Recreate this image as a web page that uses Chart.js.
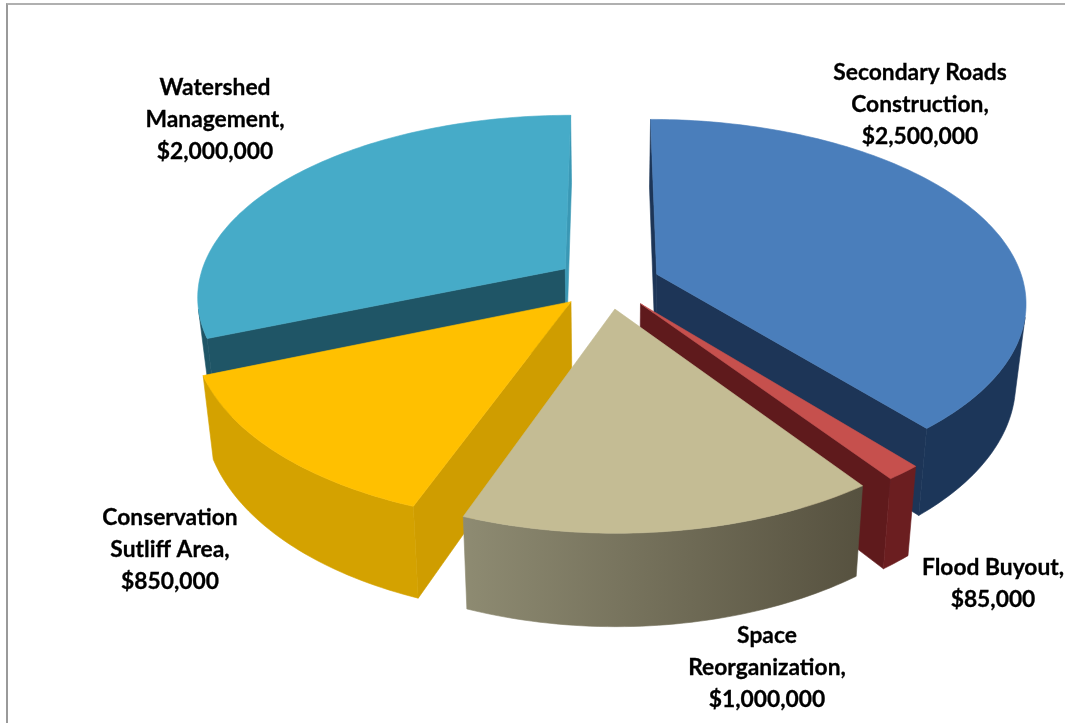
<!DOCTYPE html>
<html>
<head>
<meta charset="utf-8">
<script src="https://cdn.jsdelivr.net/npm/chart.js@4/dist/chart.umd.min.js"></script>
<style>
  html, body { margin: 0; padding: 0; background: #fff; overflow: hidden; }
  #frame { position: absolute; left: 6px; top: 3px; width: 1059px; height: 720px;
           border-left: 2px solid #9a9a9a; border-top: 2px solid #b0b0b0; box-sizing: border-box; }
  #wrap { position: absolute; left: 0; top: 0; width: 1065px; height: 723px; }
</style>
</head>
<body>
<div id="frame"></div>
<div id="wrap"><canvas id="grafico" width="1065" height="723"></canvas></div>
<script>
const categories = ['Secondary Roads Construction', 'Flood Buyout', 'Space Reorganization', 'Conservation Sutliff Area', 'Watershed Management'];
const values = [2500000, 85000, 1000000, 850000, 2000000];
const labelLines = [
  ['Secondary Roads', 'Construction,'],
  ['Flood Buyout,'],
  ['Space', 'Reorganization,'],
  ['Conservation', 'Sutliff Area,'],
  ['Watershed', 'Management,']
];
const topColors = ['#4a7ebb', '#c6504d', '#c4bc94', '#ffc000', '#46abc8'];
// side colours run from the left end to the right end of the visible rim
const sideColors = [['#1c3659', '#1c3659'], ['#6b1e20', '#6b1e20'], ['#8e8b72', '#56513f'], ['#d4a200', '#d4a200'], ['#1f5566', '#1f5566']];
const startWallColors = ['#1d3557', '#6b1e20', '#8e8b72', '#cf9d00', '#1f5566'];
const endWallColors = ['#1d3557', '#5f1a1c', '#8e8b72', '#cf9d00', '#3a98b5'];
const labelCenters = [[920, 73], [993, 568], [767, 636], [170, 518], [215, 88]];

// projection of the flat pie to the tilted 3D look
const cam = { cx: 608, cy: 283, rx: 367, ry: 181, kx: 0.145, ky: 0.153, depth: 78, shrink: 0.975 };

function project(u, v, baixo) {
  const sx = 1 / (1 - cam.kx * v);
  const sy = 1 / (1 - cam.ky * v);
  let x = cam.cx + cam.rx * u * sx;
  let y = cam.cy + cam.ry * v * sy;
  if (baixo) {
    x = cam.cx + (x - cam.cx) * cam.shrink;
    y += cam.depth * sx;
  }
  return [x, y];
}

function area(p) {
  let a = 0;
  p.forEach((q, i) => {
    const n = p[(i + 1) % p.length];
    a += q[0] * n[1] - n[0] * q[1];
  });
  return a / 2;
}

function poly(ctx, p, cor) {
  ctx.beginPath();
  p.forEach((q, i) => i ? ctx.lineTo(q[0], q[1]) : ctx.moveTo(q[0], q[1]));
  ctx.closePath();
  ctx.fillStyle = cor;
  ctx.strokeStyle = cor;
  ctx.lineWidth = 0.6;
  ctx.fill();
  ctx.stroke();
}

function quad(a, b) {
  return [project(a[0], a[1]), project(b[0], b[1]), project(b[0], b[1], true), project(a[0], a[1], true)];
}

function wall(ctx, a, b, cor) {
  const q = quad(a, b);
  if (area(q) < 0) poly(ctx, q, cor);
}

function drawSlice(ctx, arc, i) {
  const { startAngle, endAngle, outerRadius } = arc;
  const mid = (startAngle + endAngle) / 2;
  const ex = arc.options.offset / outerRadius;
  const apex = [ex * Math.cos(mid), ex * Math.sin(mid)];
  const borda = [];
  const passos = Math.max(4, Math.ceil((endAngle - startAngle) / 0.02));
  for (let n = 0; n <= passos; n++) {
    const t = startAngle + (endAngle - startAngle) * n / passos;
    borda.push([apex[0] + Math.cos(t), apex[1] + Math.sin(t)]);
  }

  wall(ctx, apex, borda[0], startWallColors[i]);
  wall(ctx, borda[passos], apex, endWallColors[i]);

  // rim: only the run of segments that faces the camera, as one shape
  const vis = [];
  for (let n = 0; n < passos; n++) {
    if (area(quad(borda[n], borda[n + 1])) < 0) vis.push(n);
  }
  if (vis.length) {
    const cima = [borda[vis[0]], ...vis.map(n => borda[n + 1])];
    const contorno = [
      ...cima.map(p => project(p[0], p[1])),
      ...cima.slice().reverse().map(p => project(p[0], p[1], true))
    ];
    const xs = contorno.map(p => p[0]);
    const g = ctx.createLinearGradient(Math.min(...xs), 0, Math.max(...xs), 0);
    g.addColorStop(0, sideColors[i][0]);
    g.addColorStop(1, sideColors[i][1]);
    poly(ctx, contorno, g);
  }

  poly(ctx, [apex, ...borda].map(p => project(p[0], p[1])), topColors[i]);
}

const pie3d = {
  id: 'pie3d',
  beforeDatasetsDraw(chart) {
    const ctx = chart.ctx;
    const arcs = chart.getDatasetMeta(0).data;
    const ordem = arcs.map((a, i) => i).sort((a, b) => {
      const va = Math.sin((arcs[a].startAngle + arcs[a].endAngle) / 2);
      const vb = Math.sin((arcs[b].startAngle + arcs[b].endAngle) / 2);
      return va - vb;
    });
    ctx.save();
    ordem.forEach(i => drawSlice(ctx, arcs[i], i));

    ctx.fillStyle = '#000';
    ctx.strokeStyle = '#000';
    ctx.lineWidth = 0.3;
    ctx.font = 'bold 22.8px Lato, Carlito, sans-serif';
    ctx.textAlign = 'center';
    ctx.textBaseline = 'middle';
    arcs.forEach((a, i) => {
      const linhas = [...labelLines[i], '$' + values[i].toLocaleString('en-US')];
      linhas.forEach((t, n) => {
        ctx.fillText(t, labelCenters[i][0], labelCenters[i][1] + n * 32);
        ctx.strokeText(t, labelCenters[i][0], labelCenters[i][1] + n * 32);
      });
    });
    ctx.restore();
    return false;
  }
};

new Chart(document.getElementById('grafico'), {
  type: 'pie',
  data: {
    labels: categories,
    datasets: [{ data: values, backgroundColor: topColors, offset: 48, borderWidth: 0 }]
  },
  options: {
    responsive: false,
    animation: false,
    plugins: { legend: { display: false }, tooltip: { enabled: false } }
  },
  plugins: [pie3d]
});
</script>
</body>
</html>
